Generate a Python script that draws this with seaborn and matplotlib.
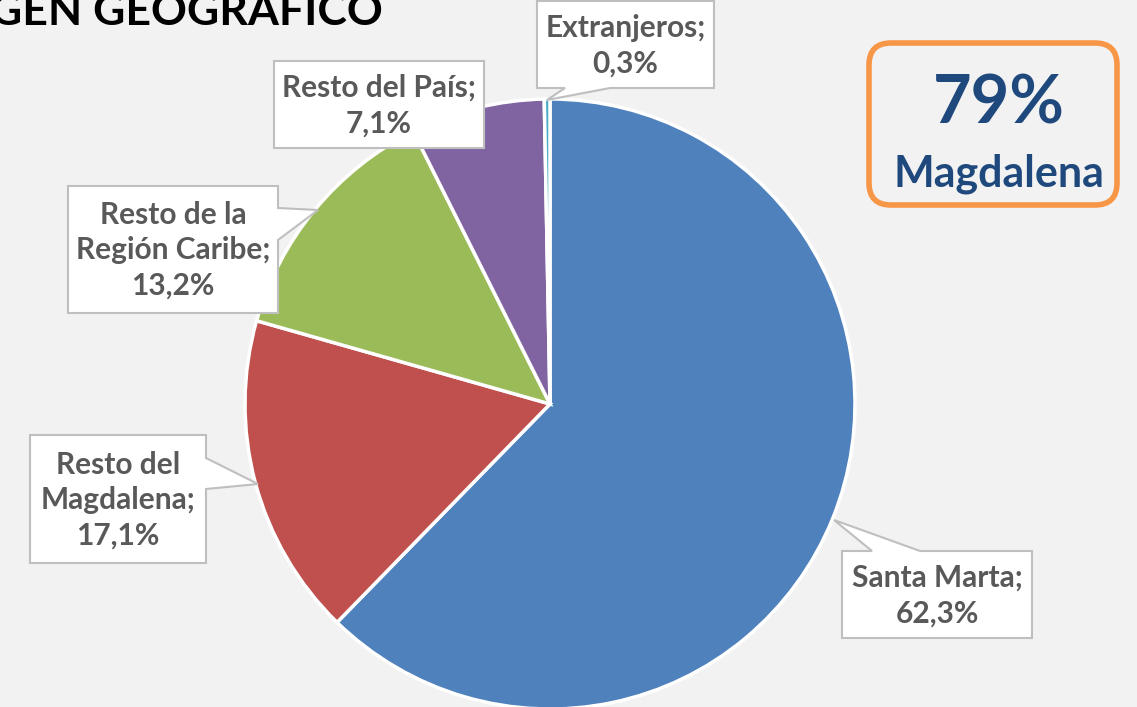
import seaborn as sns
import matplotlib.pyplot as plt
from matplotlib.patches import Polygon, FancyBboxPatch

# datos: origen geografico
categorias = ['Santa Marta', 'Resto del\nMagdalena', 'Resto de la\nRegión Caribe',
              'Resto del País', 'Extranjeros']
porcentajes = [62.3, 17.1, 13.2, 7.1, 0.3]
colores = ['#4F81BD', '#C0504D', '#9BBB59', '#8064A2', '#4BACC6']
titulo = 'ORIGEN GEOGRÁFICO'
resumen_valor = '79%'
resumen_texto = 'Magdalena'

W, H = 1137, 707


def Y(y):
    return H - y


def callout(ax, box, lado=None, base=None, punta=None):
    x0, y0, x1, y1 = box
    pts = [(x0, y0)]
    if lado == 'top':
        pts += [(base[0], y0), punta, (base[1], y0)]
    pts.append((x1, y0))
    if lado == 'right':
        pts += [(x1, base[0]), punta, (x1, base[1])]
    pts.append((x1, y1))
    if lado == 'bottom':
        pts += [(base[1], y1), punta, (base[0], y1)]
    pts.append((x0, y1))
    pts = [(px, Y(py)) for px, py in pts]
    ax.add_patch(Polygon(pts, closed=True, facecolor='white', edgecolor='#BFBFBF',
                         linewidth=1.5, zorder=5))


if __name__ == "__main__":
    sns.set_style('white')
    plt.rcParams['font.family'] = ['Lato', 'DejaVu Sans']

    fig = plt.figure(figsize=(W / 100, H / 100), dpi=100)
    fig.patch.set_facecolor('#F2F2F2')
    ax = fig.add_axes([0, 0, 1, 1])
    ax.set_facecolor('#F2F2F2')

    ax.pie(porcentajes, colors=sns.color_palette(colores), startangle=90, counterclock=False,
           center=(550, Y(404)), radius=305,
           wedgeprops=dict(edgecolor='white', linewidth=2.5))
    ax.set_xlim(0, W)
    ax.set_ylim(0, H)
    ax.set_aspect('auto')
    ax.axis('off')

    # --- etiquetas tipo callout ---
    cajas = [
        ((842, 551, 1032, 638), 'top', (872, 920), (834, 520)),
        ((30, 435, 206, 563), 'right', (458, 489), (258, 484)),
        ((68, 186, 278, 313), 'right', (208, 240), (318, 210)),
        ((274, 61, 484, 148), None, None, None),
        ((537, 1, 714, 88), 'bottom', (565, 610), (547, 100)),
    ]
    for cat, val, (box, lado, base, punta) in zip(categorias, porcentajes, cajas):
        callout(ax, box, lado, base, punta)
        etiqueta = f'{cat};\n{val:.1f}%'.replace('.', ',')
        ax.text((box[0] + box[2]) / 2, Y((box[1] + box[3]) / 2 + 1), etiqueta,
                ha='center', va='center', fontsize=21.5, fontweight='bold',
                color='#595959', linespacing=1.32, zorder=6)

    # --- recuadro resumen ---
    ax.add_patch(FancyBboxPatch((891, Y(183)), 204, 118,
                                boxstyle='round,pad=22', facecolor='none',
                                edgecolor='#F79646', linewidth=4, zorder=6))
    ax.text(999, Y(123), resumen_valor, ha='center', va='baseline', fontsize=48,
            fontweight='bold', color='#1F497D', zorder=7)
    ax.text(999, Y(187), resumen_texto, ha='center', va='baseline', fontsize=31,
            fontweight='bold', color='#1F497D', zorder=7)

    ax.text(383, Y(25), titulo, ha='right', va='baseline', fontsize=32,
            fontweight='bold', color='black')

    fig.savefig('out.png', dpi=100, facecolor=fig.get_facecolor())
